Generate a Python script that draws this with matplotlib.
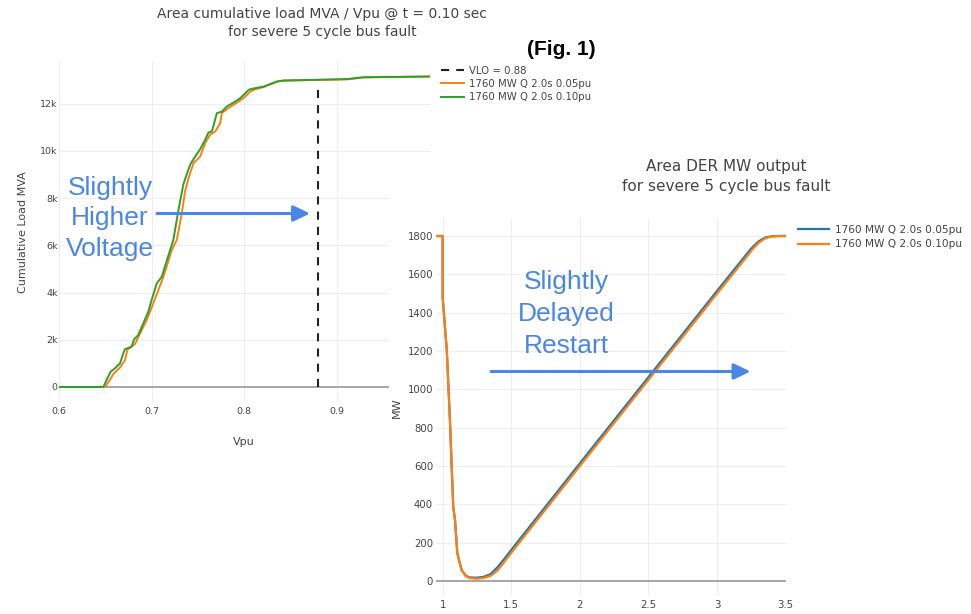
import matplotlib
matplotlib.use("Agg")
import matplotlib.pyplot as plt
from matplotlib.patches import Rectangle
from matplotlib.ticker import FuncFormatter, FixedLocator

# ---- cumulative load vs voltage (t = 0.10 s) ----
vlo = 0.88
vlo_span = [0, 12800]

green_v = [0.600, 0.6478, 0.6514, 0.6557, 0.6604, 0.6658, 0.6694, 0.6712, 0.6784,
           0.6810, 0.6855, 0.6910, 0.6964, 0.7000, 0.7055, 0.7109, 0.7199, 0.7234,
           0.7289, 0.7343, 0.7415, 0.7469, 0.7523, 0.7577, 0.7613, 0.7649, 0.7674,
           0.7703, 0.7757, 0.7811, 0.7901, 0.7955, 0.8045, 0.8081, 0.8206, 0.8260,
           0.8351, 0.8422, 0.9107, 0.9287, 1.000]
green_mva = [0, 0, 300, 650, 790, 1000, 1430, 1600, 1710,
             2020, 2200, 2700, 3190, 3690, 4390, 4670, 5800, 6230,
             7500, 8600, 9420, 9760, 10070, 10470, 10780, 10820, 11170,
             11600, 11660, 11880, 12090, 12230, 12580, 12630, 12720, 12800,
             12940, 12980, 13040, 13120, 13150]

orange_v = [0.600, 0.6497, 0.6550, 0.6586, 0.6659, 0.6712, 0.6738, 0.6820, 0.6875,
            0.6947, 0.7018, 0.7072, 0.7127, 0.7217, 0.7271, 0.7325, 0.7360, 0.7397,
            0.7450, 0.7523, 0.7577, 0.7630, 0.7685, 0.7739, 0.7757, 0.7829, 0.7937,
            0.7990, 0.8063, 0.8117, 0.8206, 0.8260, 0.8351, 0.8422, 0.9107, 0.9287,
            1.000]
orange_mva = [0, 0, 300, 550, 830, 1140, 1570, 1820, 2270,
              2840, 3550, 4110, 4670, 5800, 6230, 7360, 8280, 8840,
              9480, 9760, 10330, 10680, 10820, 11170, 11600, 11810, 12090,
              12230, 12510, 12610, 12700, 12790, 12930, 12975, 13030, 13110,
              13150]

load_labels = ["VLO = 0.88", "1760 MW Q 2.0s 0.05pu", "1760 MW Q 2.0s 0.10pu"]
vpu_ticks = [0.6, 0.7, 0.8, 0.9]
mva_ticks = [0, 2000, 4000, 6000, 8000, 10000, 12000]

# ---- DER MW output vs time ----
t_005 = [0.95, 1.00, 1.00, 1.03, 1.053, 1.077, 1.09, 1.107, 1.138, 1.17, 1.20, 1.25,
         1.30, 1.35, 1.40, 1.45, 1.50, 2.00, 2.50, 3.00, 3.20, 3.25, 3.30, 3.35,
         3.40, 3.45, 3.50]
mw_005 = [1800, 1800, 1480, 1205, 840, 388, 318, 144, 57, 26, 18, 17,
          22, 36, 72, 116, 162, 614, 1064, 1514, 1692, 1736, 1771, 1792,
          1799, 1800, 1800]

t_010 = [0.95, 1.00, 1.00, 1.03, 1.053, 1.077, 1.09, 1.107, 1.138, 1.17, 1.20, 1.25,
         1.30, 1.35, 1.40, 1.45, 1.50, 2.00, 2.50, 3.00, 3.20, 3.25, 3.30, 3.35,
         3.40, 3.45, 3.50]
mw_010 = [1800, 1800, 1480, 1205, 840, 388, 318, 144, 57, 24, 14, 12,
          16, 27, 55, 100, 147, 600, 1050, 1500, 1678, 1724, 1763, 1788,
          1798, 1800, 1800]

der_labels = ["1760 MW Q 2.0s 0.05pu", "1760 MW Q 2.0s 0.10pu"]
time_ticks = [1, 1.5, 2, 2.5, 3, 3.5]
mw_ticks = [0, 200, 400, 600, 800, 1000, 1200, 1400, 1600, 1800]

C_BLUE, C_ORANGE, C_GREEN = "#1f77b4", "#ff7f0e", "#2ca02c"
TXT = "#444444"
GRID = "#eeeeee"
NOTE = "#4a86e8"

W, H = 971, 614
fig = plt.figure(figsize=(W / 100, H / 100), dpi=100)
fig.patch.set_facecolor("white")


def fx(px):
    return px / W


def fy(py):
    return 1 - py / H


def style_axes(ax, size):
    for s in ax.spines.values():
        s.set_visible(False)
    ax.grid(True, color=GRID, lw=0.8)
    ax.set_axisbelow(True)
    ax.tick_params(length=0, colors=TXT, labelsize=size)
    ax.axhline(0, color="#999999", lw=1.2, zorder=1.5)


# ---------------- left panel ----------------
axL = fig.add_axes([fx(59), fy(402.5), fx(429.7) - fx(59), fy(61) - fy(402.5)])
axL.set_zorder(0)
style_axes(axL, 6.8)
axL.tick_params(axis="y", pad=1)
axL.tick_params(axis="x", pad=3.5)
axL.set_xlim(0.6, 1.0)
axL.set_ylim(-657, 13807)
axL.xaxis.set_major_locator(FixedLocator(vpu_ticks))
axL.xaxis.set_major_formatter(FuncFormatter(lambda v, p: f"{v:.1f}"))
axL.yaxis.set_major_locator(FixedLocator(mva_ticks))
axL.yaxis.set_major_formatter(FuncFormatter(lambda v, p: "0" if v == 0 else f"{int(v/1000)}k"))

hv, = axL.plot([vlo, vlo], vlo_span, color="#222222", lw=1.5, ls=(0, (3.9, 3.4)), zorder=3)
ho, = axL.plot(orange_v, orange_mva, color=C_ORANGE, lw=1.4, zorder=3)
hg, = axL.plot(green_v, green_mva, color=C_GREEN, lw=1.4, zorder=3)
axL.legend([hv, ho, hg], load_labels, loc="upper left",
           bbox_to_anchor=(fx(441), fy(65.5)), bbox_transform=fig.transFigure,
           frameon=False, fontsize=7.3, handlelength=2.3, handletextpad=0.5,
           labelspacing=0.33, borderpad=0, borderaxespad=0, labelcolor=TXT)

fig.text(fx(322), fy(14), "Area cumulative load MVA / Vpu @ t = 0.10 sec",
         ha="center", va="center", fontsize=10, color=TXT)
fig.text(fx(322), fy(31.7), "for severe 5 cycle bus fault",
         ha="center", va="center", fontsize=10, color=TXT)
fig.text(fx(23.5), fy(231.7), "Cumulative Load MVA", rotation=90,
         ha="center", va="center", fontsize=8, color=TXT)
fig.text(fx(244), fy(442), "Vpu", ha="center", va="center", fontsize=8, color=TXT)
fig.text(fx(561), fy(49.5), "(Fig. 1)", ha="center", va="center", fontsize=15,
         fontweight="bold", family="Liberation Sans", color="black")

# ---------------- right panel ----------------
fig.patches.append(Rectangle((fx(389), 0), 1 - fx(389), fy(153), transform=fig.transFigure,
                             facecolor="white", edgecolor="none", zorder=1))

axR = fig.add_axes([fx(435.8), fy(596.3), fx(785.7) - fx(435.8), fy(218.8) - fy(596.3)])
axR.set_zorder(2)
axR.patch.set_alpha(0)
style_axes(axR, 7.3)
axR.tick_params(axis="y", pad=2)
axR.tick_params(axis="x", pad=3)
axR.set_xlim(0.95, 3.5)
axR.set_ylim(-80, 1890)
axR.xaxis.set_major_locator(FixedLocator(time_ticks))
axR.xaxis.set_major_formatter(FuncFormatter(lambda v, p: f"{v:g}"))
axR.yaxis.set_major_locator(FixedLocator(mw_ticks))

hb, = axR.plot(t_005, mw_005, color=C_BLUE, lw=1.6, zorder=3)
hr, = axR.plot(t_010, mw_010, color=C_ORANGE, lw=1.6, zorder=3)
axR.legend([hb, hr], der_labels, loc="upper left",
           bbox_to_anchor=(fx(798), fy(224.5)), bbox_transform=fig.transFigure,
           frameon=False, fontsize=7.6, handlelength=2.9, handletextpad=0.6,
           labelspacing=0.45, borderpad=0, borderaxespad=0, labelcolor=TXT)

fig.text(fx(726), fy(167), "Area DER MW output", ha="center", va="center",
         fontsize=11, color=TXT, zorder=3)
fig.text(fx(726), fy(186), "for severe 5 cycle bus fault", ha="center", va="center",
         fontsize=11, color=TXT, zorder=3)
fig.text(fx(397), fy(407.5), "MW", rotation=90, ha="center", va="center",
         fontsize=8, color=TXT, zorder=3)

# ---------------- call-outs ----------------
for word, base in zip(["Slightly", "Higher", "Voltage"], [194.5, 225, 255.5]):
    fig.text(fx(110), fy(base), word, ha="center", va="baseline", fontsize=19,
             family="Liberation Sans", color=NOTE, zorder=4)
for word, base in zip(["Slightly", "Delayed", "Restart"], [289.5, 321, 353]):
    fig.text(fx(566), fy(base), word, ha="center", va="baseline", fontsize=19,
             family="Liberation Sans", color=NOTE, zorder=4)

arrow_style = dict(arrowstyle="-|>,head_length=0.5,head_width=0.24", color=NOTE,
                   lw=2.2, shrinkA=0, shrinkB=0, mutation_scale=20)
fig.add_artist(plt.Annotation("", xy=(310, H - 213.5), xytext=(157, H - 213.5),
                              xycoords="figure pixels", textcoords="figure pixels",
                              arrowprops=arrow_style, zorder=4))
fig.add_artist(plt.Annotation("", xy=(750.5, H - 371.5), xytext=(491, H - 371.5),
                              xycoords="figure pixels", textcoords="figure pixels",
                              arrowprops=arrow_style, zorder=4))

fig.savefig("out.png", dpi=100, facecolor="white")
